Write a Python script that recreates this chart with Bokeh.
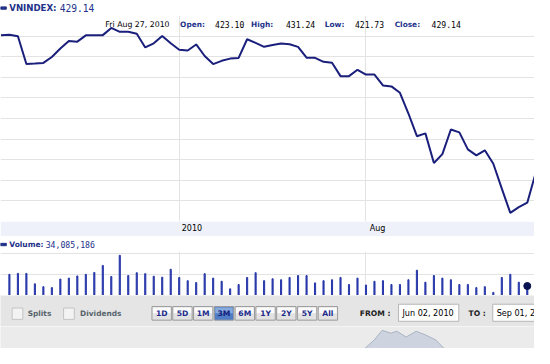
import pandas as pd
from bokeh.plotting import figure
from bokeh.layouts import column
from bokeh.models import Range1d, FixedTicker
from bokeh.core.properties import value
from bokeh.embed import file_html
from bokeh.resources import INLINE

# ---------------- data ----------------
DATES = [d.strftime("%Y-%m-%d") for d in pd.bdate_range("2010-06-02", "2010-08-30")]
CLOSE = [510.47, 510.70, 509.91, 496.42, 496.65, 496.98, 499.86, 503.95, 507.58, 507.30,
         510.37, 510.37, 510.47, 513.95, 512.09, 512.09, 511.16, 504.51, 506.51, 510.09,
         506.51, 503.40, 503.02, 505.95, 500.33, 496.42, 498.00, 499.07, 499.40, 508.47,
         506.70, 504.79, 505.72, 506.37, 506.05, 504.79, 499.53, 499.44, 497.53, 497.07,
         490.56, 490.56, 493.63, 491.30, 491.30, 486.05, 485.58, 482.47, 472.42, 461.40,
         462.79, 448.37, 452.70, 464.65, 463.26, 455.02, 452.09, 454.56, 448.05, 435.95,
         424.19, 426.98, 429.14, 443.70]
# volume in millions, trading days 2010-06-03 .. 2010-08-27
VOLUME_M = [76.0, 79.4, 79.4, 41.9, 31.7, 28.3, 59.0, 62.4, 70.2, 76.0,
            82.8, 107.7, 68.2, 144.2, 71.6, 81.8, 78.4, 69.2, 65.8, 94.1,
            64.8, 53.2, 46.4, 78.4, 62.4, 51.1, 23.9, 39.5, 64.8, 81.8,
            53.2, 60.0, 56.6, 64.8, 71.6, 71.6, 45.3, 53.2, 56.6, 64.8,
            39.5, 62.4, 37.5, 51.1, 53.2, 39.5, 39.5, 56.6, 90.7, 47.7,
            71.6, 62.4, 56.6, 39.5, 39.5, 28.3, 31.7, 11.2, 64.8, 76.0,
            47.7, 34.085186]
VOLUME_DATES = DATES[1:63]
TICK_DATES = ["2010-07-01", "2010-08-02"]
TICK_LABELS = ["2010", "Aug"]
PRICE_GRID = [430, 440, 450, 460, 470, 480, 490, 500, 510, 520]
VOLUME_GRID_M = [75, 150]
HOVER_DATE = "2010-08-27"
HOVER_TEXT = "Fri Aug 27, 2010"
INFO_NAMES = ["Open:", "High:", "Low:", "Close:"]
INFO_VALUES = ["423.10", "431.24", "421.73", "429.14"]
LAST_VALUE = "429.14"
LAST_VOLUME = "34,085,186"
RANGE_BUTTONS = ["1D", "5D", "1M", "3M", "6M", "1Y", "2Y", "5Y", "All"]
SELECTED = "3M"
FROM_DATE = "Jun 02, 2010"
TO_DATE = "Sep 01, 2010"
# navigator (long history) visible hump
NAV_YEAR = [2007.10, 2007.30, 2007.49, 2007.65, 2007.82, 2007.94, 2008.13, 2008.33, 2008.52, 2008.72, 2008.89, 2009.10]
NAV_LEVEL = [700, 900, 1017, 1148, 1109, 1135, 1057, 1135, 1083, 1017, 900, 700]

# ---------------- style ----------------
W = 534
NAVY = "#22318a"
LINE = "#1a1f7c"
BAR = "#2838aa"
GRID = "#e3e3e3"
BAND = "#eef1f9"
SANS = value("DejaVu Sans")
MONO = value("DejaVu Sans Mono")

day = {d: i for i, d in enumerate(DATES)}
xs = list(range(len(CLOSE)))
xr = Range1d(-0.05, 62.85)


def deco_fig(h, y_top, y_bot, bg):
    f = figure(width=W, height=h, x_range=Range1d(0, 550), y_range=Range1d(y_bot, y_top),
               output_backend="svg", toolbar_location=None, x_axis_location=None,
               y_axis_location=None, min_border=0)
    f.grid.visible = False
    f.outline_line_color = None
    f.background_fill_color = bg
    f.border_fill_color = bg
    return f


def txt(f, x, y, s, size, color="black", bold=False, font=SANS, align="left", **kw):
    f.text(x=[x], y=[y], text=[s], text_font=font, text_font_size=size,
           text_font_style="bold" if bold else "normal", text_color=color,
           text_align=align, text_baseline="middle", **kw)


# ---- title row ----
title = deco_fig(15, 0, 16, "white")
title.quad(left=[0], right=[6], top=[6.8], bottom=[9.3], color=NAVY)
txt(title, 9, 8.2, "VNINDEX:", "8.6px", NAVY, bold=True)
txt(title, 61, 8.2, LAST_VALUE, "9.6px", NAVY, font=MONO)

# ---- price panel ----
price = figure(width=W, height=221, x_range=xr, y_range=Range1d(420, 520),
               output_backend="svg", toolbar_location=None, x_axis_location="below",
               y_axis_location=None, min_border=0, min_border_bottom=15)
price.outline_line_color = None
price.border_fill_color = BAND
price.background_fill_color = "white"
price.extra_x_ranges = {"px": Range1d(0, 550)}
price.extra_y_ranges = {"py": Range1d(231, 16)}
tick_idx = [day[d] for d in TICK_DATES]
label_pos = [tick_idx[0] + 1.5, tick_idx[1] + 1.375]
ax = price.xaxis[0]
ax.ticker = FixedTicker(ticks=label_pos)
ax.major_label_overrides = {p: l for p, l in zip(label_pos, TICK_LABELS)}
ax.axis_line_color = None
ax.major_tick_line_color = None
ax.minor_tick_line_color = None
ax.major_tick_out = 0
ax.major_label_standoff = 2
ax.major_label_text_font = "DejaVu Sans"
ax.major_label_text_font_size = "8px"
ax.major_label_text_color = "black"
price.xgrid.ticker = FixedTicker(ticks=tick_idx)
price.ygrid.ticker = FixedTicker(ticks=PRICE_GRID)
price.grid.grid_line_color = GRID
price.line(xs, CLOSE, line_color=LINE, line_width=2)

# hover info row
txt(price, 108, 25, HOVER_TEXT, "7.8px", "black", x_range_name="px", y_range_name="py")
info_x = [185, 258, 334, 406]
val_x = [221, 294, 365, 444]
for n, v, lx, vx in zip(INFO_NAMES, INFO_VALUES, info_x, val_x):
    txt(price, lx, 25.5, n, "7.4px", NAVY, bold=True, x_range_name="px", y_range_name="py")
    txt(price, vx, 25.5, v, "8.1px", "black", font=MONO, x_range_name="px", y_range_name="py")

# ---- volume header ----
vhdr = deco_fig(15, 246, 262, "white")
vhdr.quad(left=[0], right=[6], top=[253.3], bottom=[255.8], color=NAVY)
txt(vhdr, 9, 254.5, "Volume:", "7.5px", NAVY, bold=True)
txt(vhdr, 46.5, 254.5, LAST_VOLUME, "8.2px", NAVY, font=MONO)

# ---- volume panel ----
vol = figure(width=W, height=44, x_range=xr, y_range=Range1d(0, 158),
             output_backend="svg", toolbar_location=None, x_axis_location=None,
             y_axis_location=None, min_border=0)
vol.outline_line_color = None
vol.xgrid.ticker = FixedTicker(ticks=tick_idx)
vol.ygrid.ticker = FixedTicker(ticks=VOLUME_GRID_M)
vol.grid.grid_line_color = GRID
vol.vbar(x=[day[d] for d in VOLUME_DATES], top=VOLUME_M, width=0.13, bottom=0,
         color=BAR)
hi = VOLUME_DATES.index(HOVER_DATE)
vol.scatter(x=[day[HOVER_DATE]], y=[VOLUME_M[hi]], size=7, color="#0b1450")

# ---- controls ----
ctrl = deco_fig(31, 308.3, 341, "#e5e5e5")
for bx in (12, 65):
    ctrl.quad(left=[bx], right=[bx + 11], top=[321.5], bottom=[333.5],
              fill_color="#f3f3f3", line_color="#c4c4c4")
txt(ctrl, 28, 327.5, "Splits", "7.4px", "#57636c", bold=True)
txt(ctrl, 82, 327.5, "Dividends", "7.4px", "#57636c", bold=True)
for i, b in enumerate(RANGE_BUTTONS):
    left = 156 + 21.4 * i
    sel = b == SELECTED
    ctrl.quad(left=[left], right=[left + 20], top=[320], bottom=[334.3],
              fill_color="#4f7cc4" if sel else "#e2e2e2", line_color="#9a9a9a")
    ctrl.quad(left=[left + 1], right=[left + 19], top=[321], bottom=[327],
              fill_color="#86a9de" if sel else "#fbfbfb", line_color=None)
    txt(ctrl, left + 10, 327.5, b, "7.6px", "#12207a" if sel else "#1d2c8c", bold=True,
        align="center")
txt(ctrl, 370, 327.5, "FROM :", "7.6px", "#222222", bold=True)
ctrl.quad(left=[410], right=[472], top=[317.5], bottom=[335.5], fill_color="white",
          line_color="#b5b5b5")
txt(ctrl, 414, 326.8, FROM_DATE, "8.1px", "black")
txt(ctrl, 482, 327.5, "TO :", "7.6px", "#222222", bold=True)
ctrl.quad(left=[507], right=[580], top=[317.5], bottom=[335.5], fill_color="white",
          line_color="#b5b5b5")
txt(ctrl, 511, 326.8, TO_DATE, "8.1px", "black")

# ---- navigator strip ----
nav = figure(width=W, height=22, x_range=Range1d(2000.0, 2010.7), y_range=Range1d(900, 1200),
             output_backend="svg", toolbar_location=None, x_axis_location=None,
             y_axis_location=None, min_border=0)
nav.grid.visible = False
nav.outline_line_color = None
nav.background_fill_color = "#ebebeb"
nav.border_fill_color = "#ebebeb"
nav.patch(NAV_YEAR, NAV_LEVEL, fill_color="#cdd4df", line_color="#a9b2c2", line_width=1)

layout = column(title, price, vhdr, vol, ctrl, nav, spacing=0)
open("out.html", "w").write(file_html(layout, INLINE))
